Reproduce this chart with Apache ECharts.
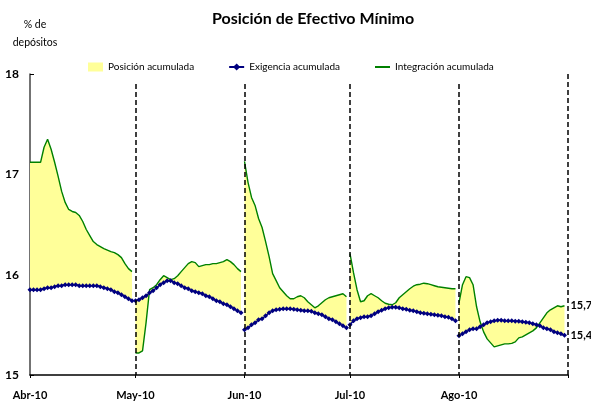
<!DOCTYPE html>
<html>
<head>
<meta charset="utf-8">
<script src="https://cdn.jsdelivr.net/npm/echarts@6/dist/echarts.min.js"></script>
<style>
  html, body { margin: 0; padding: 0; background: #fff; }
  #chart { width: 591px; height: 403px; }
</style>
</head>
<body>
<div id="chart"></div>
<script>
// months shown on the x axis and their length in days
const months = ['Abr-10', 'May-10', 'Jun-10', 'Jul-10', 'Ago-10'];
const monthDays = [30, 31, 30, 31, 31];

// Exigencia acumulada (% de depósitos), one value per day
const exigAbr = [15.85,15.85,15.85,15.85,15.86,15.87,15.87,15.88,15.89,15.89,15.90,15.90,15.90,15.90,15.89,15.89,15.89,15.89,15.89,15.89,15.88,15.87,15.86,15.85,15.83,15.82,15.80,15.78,15.76,15.74];
const exigMay = [15.74,15.75,15.77,15.79,15.82,15.84,15.87,15.90,15.92,15.94,15.94,15.92,15.91,15.89,15.87,15.86,15.84,15.83,15.82,15.81,15.79,15.78,15.76,15.74,15.73,15.71,15.70,15.68,15.66,15.64,15.62];
const exigJun = [15.45,15.47,15.50,15.52,15.55,15.56,15.59,15.62,15.64,15.65,15.655,15.66,15.66,15.66,15.655,15.65,15.645,15.64,15.64,15.635,15.62,15.61,15.60,15.58,15.56,15.55,15.53,15.51,15.49,15.47];
const exigJul = [15.50,15.54,15.56,15.57,15.58,15.58,15.59,15.61,15.63,15.645,15.66,15.67,15.675,15.675,15.67,15.66,15.655,15.645,15.64,15.63,15.62,15.615,15.61,15.605,15.60,15.595,15.59,15.58,15.575,15.56,15.54];
const exigAgo = [15.39,15.41,15.43,15.45,15.46,15.46,15.48,15.50,15.52,15.53,15.54,15.545,15.545,15.54,15.54,15.54,15.535,15.535,15.53,15.525,15.52,15.51,15.50,15.49,15.47,15.46,15.45,15.43,15.42,15.41,15.395];

// Integración acumulada
const integAbr = [17.12,17.12,17.12,17.12,17.27,17.35,17.25,17.12,16.98,16.83,16.72,16.65,16.63,16.62,16.59,16.53,16.45,16.39,16.33,16.30,16.28,16.26,16.245,16.23,16.22,16.20,16.17,16.11,16.06,16.03];
const integMay = [15.22,15.22,15.24,15.52,15.85,15.87,15.90,15.95,15.99,15.97,15.95,15.96,15.99,16.03,16.07,16.11,16.13,16.12,16.08,16.09,16.10,16.10,16.11,16.11,16.12,16.13,16.15,16.13,16.10,16.06,16.03];
const integJun = [17.13,16.92,16.77,16.69,16.56,16.47,16.33,16.18,16.01,15.94,15.87,15.83,15.79,15.76,15.76,15.78,15.79,15.77,15.73,15.70,15.67,15.69,15.72,15.75,15.77,15.78,15.79,15.80,15.81,15.78];
const integJul = [16.21,16.02,15.85,15.73,15.74,15.79,15.81,15.79,15.77,15.74,15.715,15.705,15.70,15.72,15.77,15.80,15.83,15.86,15.885,15.90,15.905,15.915,15.91,15.90,15.89,15.88,15.875,15.87,15.865,15.86,15.86];
const integAgo = [15.72,15.90,15.98,15.97,15.90,15.68,15.53,15.43,15.36,15.32,15.28,15.29,15.30,15.31,15.31,15.315,15.33,15.37,15.38,15.40,15.42,15.44,15.47,15.52,15.57,15.62,15.65,15.67,15.69,15.68,15.69];

const exigencia = [exigAbr, exigMay, exigJun, exigJul, exigAgo];
const integracion = [integAbr, integMay, integJun, integJul, integAgo];

const font = 'Lato, "Open Sans", sans-serif';

// one category per day, plus the closing day (Sep 1)
const categories = [];
const monthStart = [];
months.forEach((m, i) => {
    monthStart.push(categories.length);
    for (let d = 1; d <= monthDays[i]; d++) categories.push(m + ' ' + d);
});
monthStart.push(categories.length);
categories.push('Sep-10 1');

const isLabelDay = (idx) => monthStart.indexOf(idx) >= 0 && idx < categories.length - 1;

// pad a month's values to the full axis length
const pad = (vals, start) => categories.map((c, idx) => {
    const k = idx - start;
    return (k >= 0 && k < vals.length) ? vals[k] : '-';
});

const series = [];
months.forEach((m, i) => {
    const start = monthStart[i];
    const ex = exigencia[i];
    const ig = integracion[i];
    const low = ex.map((v, k) => Math.min(v, ig[k]));
    const gap = ex.map((v, k) => Math.abs(ig[k] - v));
    const last = i === months.length - 1;
    const endLabel = {
        show: last,
        distance: 6,
        formatter: p => Number(p.value).toFixed(1).replace('.', ','),
        fontFamily: font,
        fontWeight: 'bold',
        fontSize: 11,
        color: '#000'
    };

    series.push({
        name: 'base',
        type: 'line',
        stack: 'pos' + i,
        data: pad(low, start),
        symbol: 'none',
        lineStyle: { opacity: 0 },
        silent: true,
        z: 1
    });
    series.push({
        name: 'Posición acumulada',
        type: 'line',
        stack: 'pos' + i,
        data: pad(gap, start),
        symbol: 'none',
        color: '#ffff99',
        lineStyle: { width: 0 },
        areaStyle: { color: '#ffff99', opacity: 1 },
        silent: true,
        z: 1
    });
    series.push({
        name: 'Integración acumulada',
        type: 'line',
        data: pad(ig, start),
        symbol: 'none',
        color: '#008000',
        lineStyle: { color: '#008000', width: 1.4 },
        endLabel: endLabel,
        z: 3
    });
    const blue = {
        name: 'Exigencia acumulada',
        type: 'line',
        data: pad(ex, start),
        symbol: 'diamond',
        symbolSize: 5,
        showAllSymbol: true,
        color: '#000080',
        itemStyle: { color: '#000080' },
        lineStyle: { color: '#000080', width: 1.5 },
        endLabel: endLabel,
        z: 4
    };
    if (i === 0) {
        // dashed separators at the start of each month
        blue.markLine = {
            silent: true,
            symbol: 'none',
            label: { show: false },
            lineStyle: { color: '#000', type: [5, 3], width: 1.5 },
            data: monthStart.slice(1).map((idx, k, arr) => [
                { coord: [idx, k === arr.length - 1 ? 18 : 17.9] },
                { coord: [idx, 15] }
            ])
        };
    }
    series.push(blue);
});

const chart = echarts.init(document.getElementById('chart'));
chart.setOption({
    animation: false,
    backgroundColor: '#fff',
    title: {
        text: 'Posición de Efectivo Mínimo',
        left: 207,
        top: 6,
        textStyle: { fontFamily: font, fontWeight: 'bold', fontSize: 16, color: '#000' }
    },
    graphic: [{
        type: 'text',
        x: 35,
        y: 16,
        silent: true,
        style: {
            text: '% de\ndepósitos',
            textAlign: 'center',
            lineHeight: 18,
            fontFamily: font,
            fontSize: 10.5,
            fill: '#000'
        }
    }],
    legend: {
        top: 57,
        left: 83,
        itemWidth: 15,
        itemHeight: 9,
        itemGap: 34,
        textStyle: { fontFamily: font, fontSize: 10, color: '#000' },
        data: [
            { name: 'Posición acumulada', icon: 'rect' },
            { name: 'Exigencia acumulada' },
            { name: 'Integración acumulada', itemStyle: { opacity: 0 } }
        ],
        selectedMode: false
    },
    grid: { left: 30, right: 23, top: 74, bottom: 28, containLabel: false },
    xAxis: {
        type: 'category',
        data: categories,
        boundaryGap: false,
        axisLine: { lineStyle: { color: '#000', width: 1.5 } },
        axisTick: { interval: (idx) => monthStart.indexOf(idx) >= 0, length: 3, lineStyle: { color: '#000' } },
        axisLabel: {
            interval: isLabelDay,
            formatter: v => v.split(' ')[0],
            margin: 15,
            fontFamily: font,
            fontWeight: 'bold',
            fontSize: 11,
            color: '#000'
        },
        splitLine: { show: false }
    },
    yAxis: {
        type: 'value',
        min: 15,
        max: 18,
        interval: 1,
        axisLine: { show: true, lineStyle: { color: '#444', width: 1.5 } },
        axisTick: { show: true, inside: true, length: 4, lineStyle: { color: '#000' } },
        axisLabel: { margin: 11, fontFamily: font, fontWeight: 'bold', fontSize: 12, color: '#000' },
        splitLine: { show: false }
    },
    series: series
});
</script>
</body>
</html>
